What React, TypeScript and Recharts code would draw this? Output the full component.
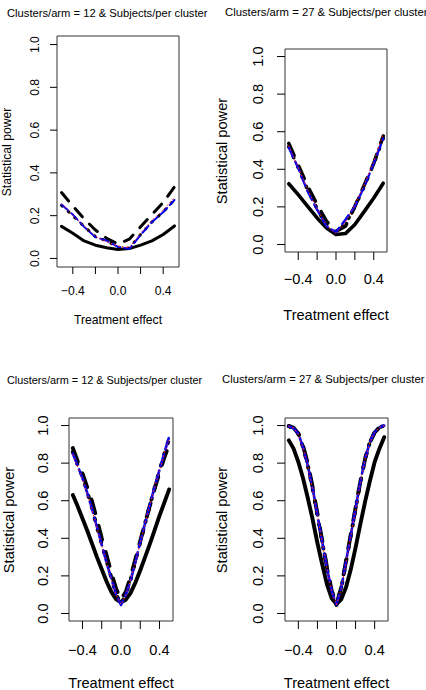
import { LineChart, Line, XAxis, YAxis, ReferenceArea } from "recharts";

const FONT = "'Liberation Sans', Arial, Helvetica, sans-serif";

// treatment effects on the x axis
const effects11 = [-0.5, -0.4, -0.3, -0.2, -0.1, 0, 0.1, 0.2, 0.3, 0.4, 0.5];
const effects21 = [
  -0.5, -0.45, -0.4, -0.35, -0.3, -0.25, -0.2, -0.15, -0.1, -0.05, 0,
  0.05, 0.1, 0.15, 0.2, 0.25, 0.3, 0.35, 0.4, 0.45, 0.5,
];

const xTicks = [-0.4, -0.2, 0, 0.2, 0.4];
const yTicks = [0, 0.2, 0.4, 0.6, 0.8, 1];

// top left: 12 clusters/arm
const a_solid = [0.15, 0.118, 0.082, 0.062, 0.05, 0.042, 0.046, 0.062, 0.082, 0.112, 0.152];
const a_long = [0.308, 0.245, 0.185, 0.133, 0.094, 0.068, 0.09, 0.148, 0.205, 0.262, 0.335];
const a_dot = [0.248, 0.2, 0.15, 0.102, 0.082, 0.052, 0.048, 0.112, 0.17, 0.218, 0.274];
const a_blue = [0.252, 0.205, 0.148, 0.1, 0.083, 0.054, 0.045, 0.11, 0.17, 0.216, 0.273];
const a_red = [0.255, 0.2, 0.152, 0.103, 0.078, 0.058, 0.05, 0.118, 0.178, 0.226, 0.285];

// top right: 27 clusters/arm
const b_solid = [0.323, 0.265, 0.203, 0.141, 0.088, 0.053, 0.058, 0.106, 0.176, 0.247, 0.326];
const b_long = [0.538, 0.423, 0.309, 0.212, 0.123, 0.07, 0.097, 0.203, 0.317, 0.432, 0.577];
const b_dot = [0.52, 0.41, 0.29, 0.19, 0.1, 0.062, 0.11, 0.2, 0.31, 0.43, 0.565];
const b_blue = [0.517, 0.406, 0.282, 0.185, 0.097, 0.065, 0.132, 0.203, 0.309, 0.432, 0.564];
const b_red = [0.525, 0.41, 0.29, 0.19, 0.1, 0.06, 0.12, 0.21, 0.32, 0.44, 0.59];

// bottom left: 12 clusters/arm
const c_solid = [0.63, 0.57, 0.505, 0.44, 0.37, 0.3, 0.235, 0.17, 0.115, 0.075, 0.06, 0.073, 0.11, 0.165, 0.23, 0.3, 0.37, 0.445, 0.52, 0.59, 0.66];
const c_long = [0.88, 0.81, 0.745, 0.67, 0.595, 0.5, 0.4, 0.31, 0.215, 0.13, 0.075, 0.115, 0.195, 0.29, 0.385, 0.48, 0.575, 0.665, 0.75, 0.83, 0.9];
const c_dot = [0.86, 0.79, 0.73, 0.645, 0.56, 0.46, 0.37, 0.28, 0.19, 0.1, 0.05, 0.1, 0.18, 0.28, 0.38, 0.48, 0.575, 0.67, 0.76, 0.85, 0.93];
const c_blue = [0.85, 0.785, 0.72, 0.64, 0.555, 0.46, 0.365, 0.27, 0.185, 0.1, 0.045, 0.1, 0.175, 0.275, 0.38, 0.48, 0.58, 0.675, 0.765, 0.855, 0.94];
const c_red = [0.845, 0.78, 0.715, 0.635, 0.55, 0.455, 0.36, 0.268, 0.18, 0.098, 0.047, 0.098, 0.178, 0.272, 0.375, 0.478, 0.578, 0.672, 0.762, 0.85, 0.935];

// bottom right: 27 clusters/arm
const d_solid = [0.921, 0.877, 0.806, 0.718, 0.612, 0.5, 0.375, 0.262, 0.155, 0.08, 0.05, 0.075, 0.14, 0.235, 0.35, 0.475, 0.595, 0.705, 0.806, 0.877, 0.938];
const d_long = [0.998, 0.988, 0.958, 0.89, 0.795, 0.672, 0.53, 0.388, 0.245, 0.12, 0.05, 0.14, 0.28, 0.42, 0.562, 0.7, 0.822, 0.91, 0.963, 0.99, 1.0];
const d_dot = [0.996, 0.985, 0.955, 0.885, 0.786, 0.662, 0.522, 0.38, 0.24, 0.115, 0.045, 0.135, 0.275, 0.415, 0.556, 0.698, 0.824, 0.912, 0.965, 0.99, 0.999];
const d_blue = [0.996, 0.986, 0.956, 0.883, 0.785, 0.665, 0.524, 0.383, 0.242, 0.118, 0.048, 0.136, 0.277, 0.418, 0.559, 0.7, 0.824, 0.912, 0.965, 0.99, 1.0];
const d_red = [0.997, 0.987, 0.952, 0.88, 0.782, 0.66, 0.52, 0.378, 0.238, 0.115, 0.047, 0.133, 0.272, 0.413, 0.553, 0.695, 0.82, 0.91, 0.964, 0.99, 1.0];

const titles = [
  "Clusters/arm = 12 & Subjects/per cluster",
  "Clusters/arm = 27 & Subjects/per cluster",
  "Clusters/arm = 12 & Subjects/per cluster",
  "Clusters/arm = 27 & Subjects/per cluster",
];

const toRows = (xs: number[], ys: number[][]) =>
  xs.map((x, i) => ({ x, s1: ys[0][i], s2: ys[1][i], s3: ys[2][i], s4: ys[3][i], s5: ys[4][i] }));

const fmt = (v: number) => (v < 0 ? "\u2212" : "") + Math.abs(v).toFixed(1);

interface PanelProps {
  data: { x: number }[];
  title: string;
  left: number;
  top: number;
  w: number;
  h: number;
  box: { l: number; t: number; r: number; b: number };
  fs: number;
  titleFs: number;
  titlePos: { x: number; y: number };
  yLabelX: number;
  xLabelY: number;
  tickLen: number;
  xLabOff: number;
  yLabOff: number;
  lw: number;
}

function Panel(p: PanelProps) {
  const series = [
    { key: "s1", stroke: "#000", w: 3 * p.lw, dash: undefined as string | undefined },
    { key: "s2", stroke: "#000", w: 3 * p.lw, dash: `${11 * p.lw} ${10 * p.lw}` },
    { key: "s3", stroke: "#000", w: 3 * p.lw, dash: `${1 * p.lw} ${8 * p.lw}` },
    { key: "s4", stroke: "#0000ee", w: 2 * p.lw, dash: `${9 * p.lw} ${4 * p.lw}` },
    { key: "s5", stroke: "#ff2020", w: 1, dash: "1 3" },
  ];
  const XTick = (t: any) => {
    const v = t.payload.value;
    if (Math.abs(Math.abs(v) - 0.2) < 1e-6) return <g />;
    return (
      <text x={t.x} y={t.y} dy="0.35em" textAnchor="middle" fontSize={p.fs} fontFamily={FONT} fill="#000">
        {fmt(v)}
      </text>
    );
  };
  const YTick = (t: any) => (
    <text
      x={t.x}
      y={t.y}
      dy="0.35em"
      textAnchor="middle"
      fontSize={p.fs}
      fontFamily={FONT}
      fill="#000"
      transform={`rotate(-90 ${t.x} ${t.y})`}
    >
      {t.payload.value.toFixed(1)}
    </text>
  );
  const cx = (p.box.l + p.box.r) / 2;
  const cy = (p.box.t + p.box.b) / 2;
  return (
    <>
      <div style={{ position: "absolute", left: p.left, top: p.top, width: p.w, height: p.h }}>
        <LineChart
          width={p.w}
          height={p.h}
          data={p.data}
          margin={{ top: p.box.t - p.top, right: p.left + p.w - p.box.r, bottom: 0, left: 0 }}
        >
          <XAxis
            type="number"
            dataKey="x"
            domain={[-0.54, 0.54]}
            ticks={xTicks}
            height={p.top + p.h - p.box.b}
            axisLine={false}
            tickLine={{ stroke: "#000" }}
            tickSize={p.tickLen}
            tickMargin={p.xLabOff - p.tickLen}
            tick={XTick}
            interval={0}
          />
          <YAxis
            type="number"
            domain={[-0.04, 1.04]}
            ticks={yTicks}
            width={p.box.l - p.left}
            axisLine={false}
            tickLine={{ stroke: "#000" }}
            tickSize={p.tickLen}
            tickMargin={p.yLabOff - p.tickLen}
            tick={YTick}
            interval={0}
          />
          <ReferenceArea
            x1={-0.54}
            x2={0.54}
            y1={-0.04}
            y2={1.04}
            fill="none"
            stroke="#333"
            strokeWidth={1}
            ifOverflow="visible"
          />
          {series.map((s) => (
            <Line
              key={s.key}
              type="linear"
              dataKey={s.key}
              stroke={s.stroke}
              strokeWidth={s.w}
              strokeDasharray={s.dash}
              strokeLinecap="round"
              strokeLinejoin="round"
              dot={false}
              activeDot={false}
              isAnimationActive={false}
            />
          ))}
        </LineChart>
      </div>
      <div
        style={{
          position: "absolute",
          left: p.titlePos.x,
          top: p.titlePos.y - p.titleFs / 2,
          fontSize: p.titleFs,
          lineHeight: `${p.titleFs}px`,
          whiteSpace: "nowrap",
        }}
      >
        {p.title}
      </div>
      <div
        style={{
          position: "absolute",
          left: cx,
          top: p.xLabelY,
          transform: "translate(-50%, -50%)",
          fontSize: p.fs,
          lineHeight: `${p.fs}px`,
          whiteSpace: "nowrap",
        }}
      >
        Treatment effect
      </div>
      <div
        style={{
          position: "absolute",
          left: p.yLabelX,
          top: cy,
          transform: "translate(-50%, -50%) rotate(-90deg)",
          fontSize: p.fs,
          lineHeight: `${p.fs}px`,
          whiteSpace: "nowrap",
        }}
      >
        Statistical power
      </div>
    </>
  );
}

export default function App() {
  return (
    <div
      style={{
        position: "absolute",
        left: 0,
        top: 0,
        width: 426,
        height: 690,
        overflow: "hidden",
        background: "#fff",
        fontFamily: FONT,
        color: "#000",
      }}
    >
      <Panel
        data={toRows(effects11, [a_solid, a_long, a_dot, a_blue, a_red])}
        title={titles[0]}
        left={0}
        top={0}
        w={213}
        h={340}
        box={{ l: 57, t: 36, r: 179, b: 267 }}
        fs={12.2}
        titleFs={11.2}
        titlePos={{ x: 7, y: 14 }}
        yLabelX={7}
        xLabelY={320}
        tickLen={7}
        xLabOff={24}
        yLabOff={22}
        lw={1}
      />
      <Panel
        data={toRows(effects11, [b_solid, b_long, b_dot, b_blue, b_red])}
        title={titles[1]}
        left={213}
        top={0}
        w={213}
        h={340}
        box={{ l: 285, t: 49, r: 387, b: 252 }}
        fs={14.6}
        titleFs={11.3}
        titlePos={{ x: 225, y: 12.5 }}
        yLabelX={222}
        xLabelY={315}
        tickLen={8}
        xLabOff={27}
        yLabOff={27}
        lw={1.2}
      />
      <Panel
        data={toRows(effects21, [c_solid, c_long, c_dot, c_blue, c_red])}
        title={titles[2]}
        left={0}
        top={340}
        w={213}
        h={350}
        box={{ l: 69, t: 418, r: 173, b: 621 }}
        fs={14.6}
        titleFs={10.9}
        titlePos={{ x: 7, y: 380 }}
        yLabelX={9}
        xLabelY={683}
        tickLen={8}
        xLabOff={29}
        yLabOff={26}
        lw={1.3}
      />
      <Panel
        data={toRows(effects21, [d_solid, d_long, d_dot, d_blue, d_red])}
        title={titles[3]}
        left={213}
        top={340}
        w={213}
        h={350}
        box={{ l: 285, t: 418, r: 388, b: 621 }}
        fs={14.6}
        titleFs={11.3}
        titlePos={{ x: 222, y: 380 }}
        yLabelX={222}
        xLabelY={683}
        tickLen={8}
        xLabOff={29}
        yLabOff={27}
        lw={1.3}
      />
    </div>
  );
}
